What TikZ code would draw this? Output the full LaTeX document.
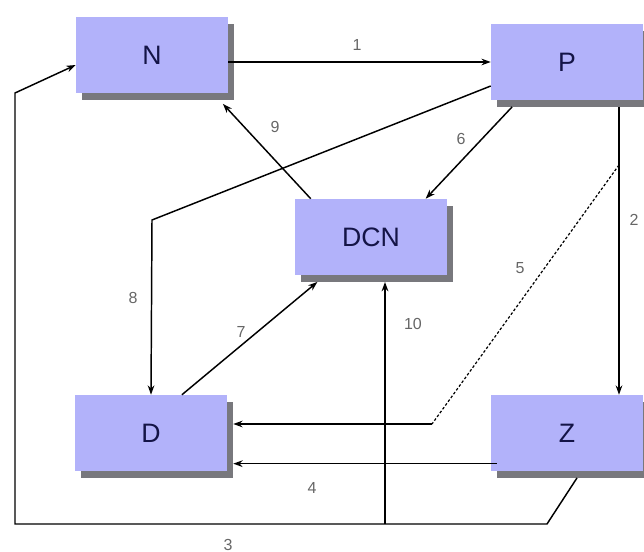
\documentclass[tikz,border=0pt]{standalone}
\usepackage{fontspec}
\setmainfont{Liberation Sans}
\usetikzlibrary{arrows.meta,shadows,positioning,calc}
\definecolor{BoxBlue}{RGB}{178,178,250}
\definecolor{BoxText}{RGB}{20,20,70}
\definecolor{ShadowGray}{RGB}{120,120,125}

\tikzset{
	unit/.style={draw=none, fill=BoxBlue, minimum width=114pt, minimum height=57pt,
		text=BoxText, font=\fontsize{20}{23}\selectfont,
		drop shadow={shadow xshift=4.5pt, shadow yshift=-5pt, fill=ShadowGray, opacity=1}},
	flow/.style={-{Stealth[length=7pt,width=5pt]}, line width=1.1pt},
	num/.style={text=black!60, font=\fontsize{12}{14}\selectfont, inner sep=1pt}
}

\begin{document}
\begin{tikzpicture}[x=0.75pt, y=-0.75pt]
		\useasboundingbox (0,0) rectangle (644,552);
		% units
		\node[unit] (N) at (152,55) {N};
		\node[unit] (P) at (567,62) {P};
		\node[unit] (DCN) at (371,237) {DCN};
		\node[unit] (D) at (151,433) {D};
		\node[unit] (Z) at (567,433) {Z};
		% bend points
		\coordinate (b3a) at (547,524);
		\coordinate (b3b) at (15,524);
		\coordinate (b3c) at (15,93);
		\coordinate (s5) at (619,165);
		\coordinate (k5) at (432,424);
		\coordinate (b8) at (152,220);
		\coordinate (t10) at (385,524);
		% connectors
		\draw[flow] (N.east |- P.west) -- (P.west);
		\draw[flow] ([xshift=39pt,yshift=-5pt]P.south) -- ([xshift=39pt]Z.north);
		\draw[flow] ([xshift=7.5pt,yshift=-5pt]Z.south) -- (b3a) -- (b3b) -- (b3c) -- ([yshift=-7.5pt]N.west);
		\draw[flow] ([xshift=4.5pt,yshift=-23pt]Z.west) -- ([xshift=4.5pt,yshift=-23pt]D.east);
		\draw[line width=0.9pt, dashed, dash pattern=on 2pt off 1.5pt] (s5) -- (k5);
		\draw[flow] (k5) -- ([xshift=4.5pt]k5 -| D.east);
		\draw[flow] ([xshift=16pt,yshift=-5pt]P.south west) -- ([xshift=41pt]DCN.north);
		\draw[flow] ([xshift=-34pt]D.north east) -- ([xshift=17pt,yshift=-5pt]DCN.south west);
		\draw[flow] ([yshift=-18pt]P.west) -- (b8) -- (D.north);
		\draw[flow] ([xshift=12pt]DCN.north west) -- ([xshift=-4pt,yshift=-8pt]N.south east);
		\draw[flow] (t10) -- ([yshift=-5pt]t10 |- DCN.south);
		% labels
		\node[num] (l1) at (357,45) {1};
		\node[num] (l2) at (634,220) {2};
		\node[num] (l3) at (228,545) {3};
		\node[num] (l4) at (312,488) {4};
		\node[num] (l5) at (520,268) {5};
		\node[num] (l6) at (461,139) {6};
		\node[num] (l7) at (241,332) {7};
		\node[num] (l8) at (133,298) {8};
		\node[num] (l9) at (275,127) {9};
		\node[num] (l10) at (413,324) {10};
	\end{tikzpicture}
\end{document}
